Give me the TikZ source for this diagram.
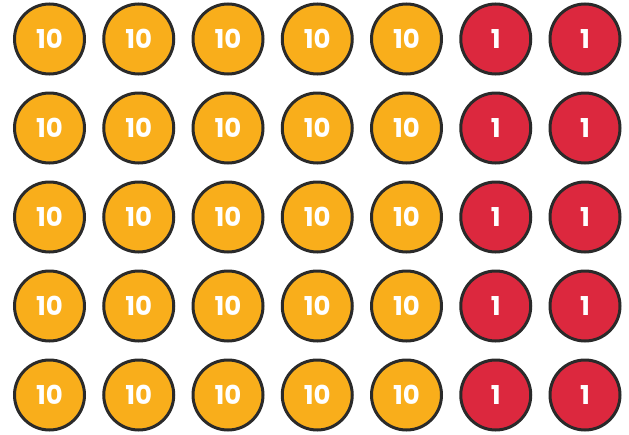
\documentclass[tikz,border=0pt]{standalone}
\usepackage{fontspec}
\setmainfont{Poppins}
\definecolor{coinorange}{HTML}{F9AE1B}
\definecolor{coinred}{HTML}{DC283E}
\definecolor{coinedge}{HTML}{2A2A2A}
\tikzset{
  coin/.style={circle, draw=coinedge, line width=3pt, minimum size=70pt, inner sep=0pt,
    text=white, font=\fontsize{26}{26}\selectfont\bfseries},
  tencoin/.style={coin, fill=coinorange},
  onecoin/.style={coin, fill=coinred}
}
\begin{document}
\begin{tikzpicture}[x=1pt,y=-1pt]
\useasboundingbox (0,0) rectangle (629,434);
\foreach \r in {0,...,4}{
  \foreach \c in {0,...,4}{
    \node[tencoin] (t\r\c) at ({49.5+89.25*\c},{39+89*\r}) {10};
  }
  \foreach \c in {5,6}{
    \node[onecoin] (o\r\c) at ({49.5+89.25*\c},{39+89*\r}) {1};
  }
}
\end{tikzpicture}
\end{document}
